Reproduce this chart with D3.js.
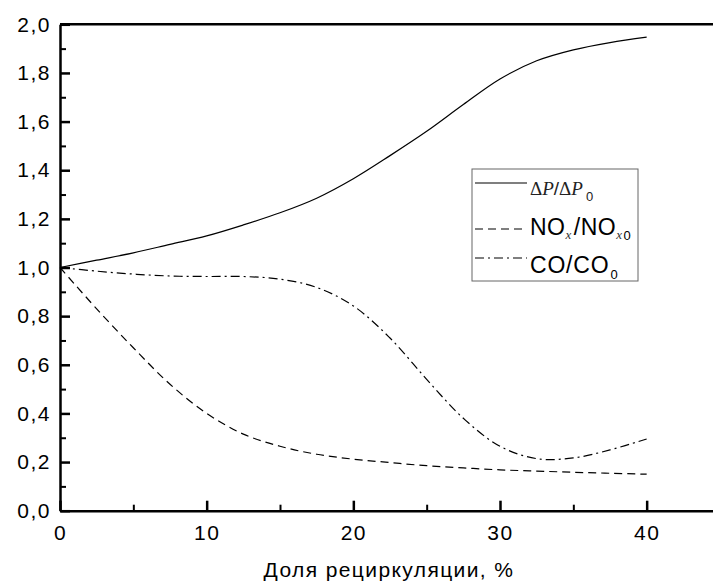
<!DOCTYPE html>
<html>
<head>
<meta charset="utf-8">
<script src="https://cdn.jsdelivr.net/npm/d3@7"></script>
<style>
body { margin: 0; background: #fff; }
svg { display: block; }
.axis text { font-family: "Liberation Sans", Arial, sans-serif; font-size: 21px; letter-spacing: 1.5px; fill: #000; }
.axis path, .axis line { stroke: #000; }
</style>
</head>
<body>
<svg id="chart" width="713" height="585"></svg>
<script>
// recirculation share, %
var share = [0, 2.5, 5, 7.5, 10, 12.5, 15, 17.5, 20, 22.5, 25, 27.5, 30, 32.5, 35, 37.5, 40];
// dP/dP0
var dp = [1.0, 1.03, 1.06, 1.095, 1.13, 1.175, 1.225, 1.285, 1.365, 1.46, 1.56, 1.67, 1.775, 1.85, 1.895, 1.925, 1.947];
// NOx/NOx0
var nox = [1.0, 0.83, 0.67, 0.52, 0.40, 0.315, 0.265, 0.232, 0.212, 0.198, 0.185, 0.176, 0.168, 0.163, 0.158, 0.154, 0.15];
// CO/CO0
var co = [1.0, 0.985, 0.973, 0.965, 0.963, 0.963, 0.952, 0.918, 0.842, 0.71, 0.54, 0.38, 0.265, 0.214, 0.217, 0.25, 0.295];

var yTicks = [0, 0.2, 0.4, 0.6, 0.8, 1.0, 1.2, 1.4, 1.6, 1.8, 2.0];
var yMinor = [0.1, 0.3, 0.5, 0.7, 0.9, 1.1, 1.3, 1.5, 1.7, 1.9];
var xTicks = [0, 10, 20, 30, 40];
var xMinor = [5, 15, 25, 35, 45];

var svg = d3.select("#chart");

var x = d3.scaleLinear().domain([0, 45]).range([60, 720]);
var y = d3.scaleLinear().domain([0, 2]).range([510.7, 24.3]);

var fmt = function(d) { return d3.format(".1f")(d).replace(".", ","); };

// minor ticks first
svg.append("g")
    .attr("class", "axis")
    .attr("transform", "translate(" + x(0) + ",0)")
    .call(d3.axisLeft(y).tickValues(yMinor).tickSizeInner(-6).tickSizeOuter(0).tickFormat(""))
    .call(function(g) { g.select(".domain").remove(); })
    .selectAll("line").attr("stroke-width", 2);

svg.append("g")
    .attr("class", "axis")
    .attr("transform", "translate(0," + y(0) + ")")
    .call(d3.axisBottom(x).tickValues(xMinor).tickSizeInner(-6).tickSizeOuter(0).tickFormat(""))
    .call(function(g) { g.select(".domain").remove(); })
    .selectAll("line").attr("stroke-width", 2);

// major
svg.append("g")
    .attr("class", "axis")
    .attr("transform", "translate(" + x(0) + ",0)")
    .call(d3.axisLeft(y).tickValues(yTicks).tickSizeInner(-10).tickSizeOuter(0).tickPadding(9).tickFormat(fmt))
    .call(function(g) {
        g.select(".domain").attr("stroke-width", 2.5);
        g.selectAll("line").attr("stroke-width", 2.5);
    });

svg.append("g")
    .attr("class", "axis")
    .attr("transform", "translate(0," + y(0) + ")")
    .call(d3.axisBottom(x).tickValues(xTicks).tickSizeInner(-10).tickSizeOuter(0).tickPadding(14).tickFormat(d3.format("d")))
    .call(function(g) {
        g.select(".domain").attr("stroke-width", 2.5);
        g.selectAll("line").attr("stroke-width", 2.5);
    });

// top border
svg.append("line")
    .attr("x1", x(0)).attr("x2", x(45))
    .attr("y1", y(2)).attr("y2", y(2))
    .attr("stroke", "#000").attr("stroke-width", 2.5);

// x title
svg.append("text")
    .attr("x", 389).attr("y", 577)
    .attr("text-anchor", "middle")
    .style("font-family", "Liberation Sans, Arial, sans-serif")
    .style("font-size", "21px")
    .style("letter-spacing", "1.4px")
    .text("Доля рециркуляции, %");

var line = d3.line()
    .x(function(d, i) { return x(share[i]); })
    .y(function(d) { return y(d); })
    .curve(d3.curveCatmullRom.alpha(0.5));

var series = [
    {vals: dp, dash: null},
    {vals: nox, dash: "8,5"},
    {vals: co, dash: "9,4,2,4"}
];

series.forEach(function(s) {
    svg.append("path")
        .attr("d", line(s.vals))
        .attr("fill", "none")
        .attr("stroke", "#000")
        .attr("stroke-width", 1.2)
        .attr("stroke-dasharray", s.dash);
});

// legend
var lg = svg.append("g");
lg.append("rect")
    .attr("x", 472).attr("y", 169).attr("width", 166).attr("height", 112)
    .attr("fill", "#fff").attr("stroke", "#666").attr("stroke-width", 1);

var lineY = [183, 229, 258];
lineY.forEach(function(ly, i) {
    lg.append("line")
        .attr("x1", 475).attr("x2", 527)
        .attr("y1", ly).attr("y2", ly)
        .attr("stroke", "#000").attr("stroke-width", 1.1)
        .attr("stroke-dasharray", series[i].dash);
});

var sans = "Liberation Sans, Arial, sans-serif";
var serif = "Liberation Serif, Times New Roman, serif";

var t1 = lg.append("text").attr("x", 530).attr("y", 195)
    .style("font-family", serif).style("font-size", "19px").style("fill", "#222");
t1.append("tspan").text("Δ");
t1.append("tspan").style("font-style", "italic").text("P");
t1.append("tspan").style("font-family", sans).text("/");
t1.append("tspan").text("Δ");
t1.append("tspan").style("font-style", "italic").text("P");
t1.append("tspan").style("font-family", sans).style("font-size", "13px").attr("dx", 3).attr("dy", 6).text("0");

var t2 = lg.append("text").attr("x", 530).attr("y", 235)
    .style("font-family", sans).style("font-size", "23px").style("letter-spacing", "0.5px");
t2.append("tspan").text("NO");
t2.append("tspan").style("font-family", serif).style("font-style", "italic").style("font-size", "13px").style("fill", "#333").attr("dy", 4).text("x");
t2.append("tspan").attr("dy", -4).attr("dx", 2).text("/NO");
t2.append("tspan").style("font-family", serif).style("font-style", "italic").style("font-size", "13px").style("fill", "#333").attr("dy", 4).text("x");
t2.append("tspan").style("font-size", "13px").attr("dy", 1).attr("dx", 1).text("0");

var t3 = lg.append("text").attr("x", 530).attr("y", 273)
    .style("font-family", sans).style("font-size", "23px").style("letter-spacing", "0.8px");
t3.append("tspan").text("CO/CO");
t3.append("tspan").style("font-size", "13px").attr("dy", 6).attr("dx", 1).text("0");
</script>
</body>
</html>
